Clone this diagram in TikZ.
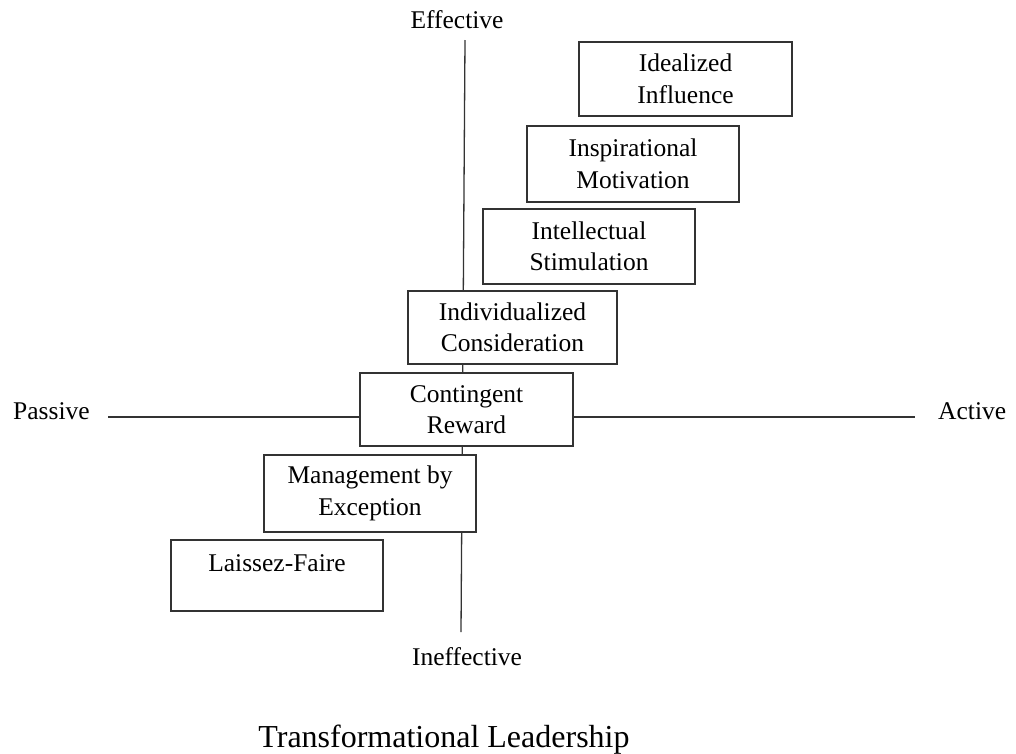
\documentclass[tikz,border=0pt]{standalone}
\usepackage{fontspec}
\setmainfont{Liberation Serif}
\begin{document}
\begin{tikzpicture}[x=1pt,y=-1pt,
  axis/.style={draw=black!80,line width=1.3pt},
  stylebox/.style={draw=black!80,line width=1.3pt,fill=white,rectangle,inner sep=0pt,
    align=center,font=\fontsize{25.5}{31.5}\selectfont},
  axislabel/.style={inner sep=0pt,font=\fontsize{25.5}{31.5}\selectfont},
  titlelabel/.style={inner sep=0pt,font=\fontsize{32}{38}\selectfont}]
\useasboundingbox (0,0) rectangle (1016,753);

% axes
\coordinate (ytop) at (465,40);
\coordinate (ybot) at (461,632);
\coordinate (xleft) at (108,417);
\coordinate (xright) at (915,417);
\draw[axis] (ytop) -- (ybot);
\draw[axis] (xleft) -- (xright);

% axis labels
\node[axislabel,anchor=base] (eff) at (457,28) {Effective};
\node[axislabel,anchor=base] (ineff) at (467,665) {Ineffective};
\node[axislabel,anchor=base west] (pass) at (13,419) {Passive};
\node[axislabel,anchor=base west] (act) at (938,419) {Active};

% leadership styles
\node[stylebox,minimum width=213,minimum height=74] (ii) at (685.5,79) {Idealized\\Influence};
\node[stylebox,minimum width=212,minimum height=76] (im) at (633,164) {Inspirational\\Motivation};
\node[stylebox,minimum width=212,minimum height=75] (is) at (589,246.5) {Intellectual\\Stimulation};
\node[stylebox,minimum width=209,minimum height=73] (ic) at (512.5,327.5) {Individualized\\Consideration};
\node[stylebox,minimum width=213,minimum height=73] (cr) at (466.5,409.5) {Contingent\\Reward};
\node[stylebox,minimum width=212,minimum height=77] (me) at (370,493.5) {Management by\\Exception};
\node[stylebox,minimum width=212,minimum height=71] (lf) at (277,575.5) {Laissez-Faire\\[-16pt]\strut};

% title
\node[titlelabel,anchor=base] (title) at (444,747) {Transformational Leadership};
\end{tikzpicture}
\end{document}
